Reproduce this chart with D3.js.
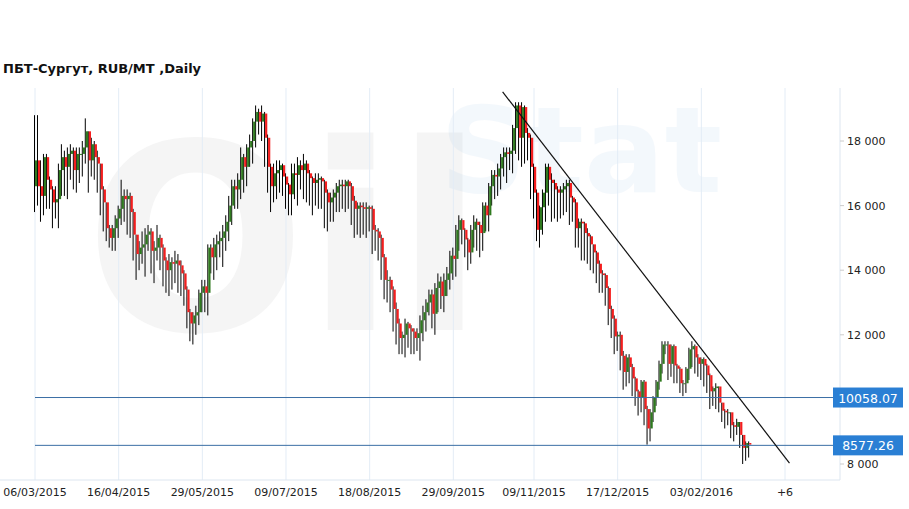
<!DOCTYPE html>
<html>
<head>
<meta charset="utf-8">
<script src="https://cdn.jsdelivr.net/npm/d3@7"></script>
<style>
  body { margin: 0; background: #fff; }
  text { font-family: Verdana, "DejaVu Sans", sans-serif; }
</style>
</head>
<body>
<div id="chart"></div>
<script>
var firstOpen = 16600;
var closes = [17400,16600,16300,17500,16800,16500,16100,16200,17100,17500,
  17200,17600,17700,17100,17600,17600,17800,18300,17400,17900,
  17500,17300,16500,16100,15300,15000,15300,15600,15900,16300,
  16200,16300,15800,15100,14500,14700,14800,15100,15200,14600,
  14700,15000,14700,14300,14000,14250,14200,14300,14150,13900,
  13400,12700,12350,12600,12700,13300,13500,13300,14700,14400,
  14800,14900,15000,15200,15500,16000,16600,16500,16800,17500,
  17200,17800,18000,18600,18900,18600,18850,18100,17200,16600,
  17000,17100,17250,16900,16650,16350,17000,16950,17250,17100,
  17300,17000,16850,16700,16800,16850,16750,16400,16100,16250,
  16400,16600,16650,16600,16750,16600,16150,15900,16000,15950,
  15900,15950,15900,15250,15200,15000,14400,13700,13700,13400,
  12800,12350,11900,12000,12350,12200,12100,11900,12050,12450,
  12700,13000,13250,12650,13450,13650,13200,13700,13900,14450,
  14350,15250,15550,15250,14950,14550,15250,15500,15400,15150,
  16000,15700,16600,16950,16900,17150,17500,17650,17600,17700,
  18400,19100,18100,19050,18250,18100,17200,16400,15250,15950,
  16400,17200,16800,16700,16500,16400,16500,16600,16700,16250,
  16100,15300,15500,15450,15150,15050,14800,14550,14200,13900,
  13850,13450,12800,12500,11950,12000,11350,10850,11300,11000,
  10650,10250,10050,10550,9700,9100,9600,10050,10550,11100,
  11700,11700,11100,11650,11050,10950,10500,10500,10950,11550,
  11650,11300,11100,11250,11050,10750,10250,10350,10400,9900,
  9650,9600,9600,9200,9150,9300,8900,8500,8650,8600];
var lows = [15800,16000,15500,15700,15900,15900,15300,15600,15300,16300,
  16300,16200,16800,16500,16400,16700,16900,17300,16400,16900,
  16800,16400,15700,15200,14900,14700,14600,14600,15000,15400,
  15500,15100,15000,14300,13700,14000,14200,13800,14600,13900,
  13600,14300,14000,13500,13300,13200,13400,13600,13300,13200,
  12900,12200,11800,11700,12000,12300,12700,12700,12600,13900,
  13700,14000,14400,14100,14600,14900,15400,15900,15900,16200,
  16400,16600,17200,17300,17800,18200,18000,17200,16400,15800,
  16100,16200,16400,16300,15900,15700,15700,16200,16000,16500,
  16200,16100,16000,15700,16000,15900,15900,15300,15200,15500,
  15500,15800,15800,15900,15800,15900,15400,15000,15100,15000,
  15100,15000,15200,14500,14600,14300,13700,13100,13000,12700,
  12100,11700,11400,11400,11300,11600,11400,11400,11500,11200,
  11800,12100,12600,12200,12000,12700,12800,12700,13200,13400,
  13700,13800,14600,14800,14400,14000,14200,14700,14600,14400,
  14600,15200,15200,16000,16200,16300,16500,16900,16700,17100,
  17000,17600,17400,17200,17300,17400,16200,15600,14900,14700,
  15100,15500,16000,15500,15600,15500,15600,15700,15800,15400,
  15500,14700,14700,14300,14300,14200,14000,13900,13600,13300,
  13300,12900,12300,11900,11400,11500,10900,10300,10400,10500,
  10100,9800,9500,9600,9200,8600,8700,9300,9800,10300,
  10800,11400,10600,10700,10500,10500,10200,10100,10200,10600,
  11000,10800,10700,10600,10400,10200,9700,9800,9700,9600,
  9300,9100,9200,8800,8700,8900,8500,8000,8100,8200];
var highs = [18800,18800,17400,17600,17600,16900,16600,16600,17300,17900,
  17700,17800,17900,17800,17800,17800,18000,18700,18300,18100,
  18000,17700,17300,16600,16100,15400,15400,15700,16000,16800,
  16500,16500,16400,15900,15100,14900,15200,15300,15400,15300,
  14900,15400,15100,14800,14400,14500,14400,14600,14500,14300,
  14000,13500,12800,12700,12900,13400,13700,13700,14800,14800,
  15000,15100,15200,15400,15700,16300,16800,16800,17000,17800,
  17600,17900,18200,18700,19100,19000,19100,18900,18200,17300,
  17300,17400,17400,17300,17000,16700,17300,17300,17500,17400,
  17600,17400,17100,16900,17000,17000,16900,16800,16500,16400,
  16500,16700,16800,16800,16800,16800,16700,16300,16100,16100,
  16100,16100,16000,16000,15400,15300,15100,14500,14000,13800,
  13500,13000,12500,12100,12500,12400,12300,12200,12200,12600,
  12900,13100,13400,13400,13600,13900,13800,13900,14100,14600,
  14700,15400,15700,15600,15300,15000,15400,15700,15600,15500,
  16100,16100,16700,17100,17100,17300,17600,17800,17800,17800,
  18500,19200,19200,19200,19100,18400,18200,17300,16500,16000,
  16500,17300,17300,17000,16800,16600,16600,16700,16800,16800,
  16300,16200,15600,15600,15500,15300,15100,14800,14600,14300,
  14000,13900,13500,12900,12600,12100,12100,11500,11400,11400,
  11100,10700,10300,10600,10600,9800,9700,10100,10600,11200,
  11800,11800,11800,11700,11700,11100,11000,10600,11000,11600,
  11800,11700,11400,11300,11300,11100,10800,10400,10500,10400,
  9900,9700,9700,9600,9300,9400,9300,8900,8700,8700];

var dateLabels = ["06/03/2015","16/04/2015","29/05/2015","09/07/2015","18/08/2015",
  "29/09/2015","09/11/2015","17/12/2015","03/02/2016","+6"];
var dateIdx = [0,28,56,84,112,140,167,195,223,251];
var yTicks = [8000,10000,12000,14000,16000,18000];
var levels = [10058.07, 8577.26];
var trend = [{i: 156.5, v: 19520}, {i: 252.5, v: 8030}];

var W = 909, H = 509;
var svg = d3.select("#chart").append("svg").attr("width", W).attr("height", H);

var x = d3.scaleLinear().domain([0, 251]).range([35, 785]);
var y = d3.scaleLinear().domain([8000, 18000]).range([464, 141]);
var plotTop = 88, plotBottom = 480, axisX = 840;

// watermark
svg.append("text").attr("x", 85).attr("y", 330).attr("font-size", 260)
  .attr("font-weight", "bold").attr("fill", "#000").attr("opacity", 0.035).text("Oil");
svg.append("text").attr("x", 440).attr("y", 192).attr("font-size", 120)
  .attr("font-weight", "bold").attr("fill", "#2a7fd0").attr("opacity", 0.05).text("Stat");

// vertical grid
svg.selectAll(".vgrid").data(dateIdx).enter().append("line")
  .attr("class", "vgrid")
  .attr("x1", function (d) { return x(d); }).attr("x2", function (d) { return x(d); })
  .attr("y1", plotTop).attr("y2", plotBottom)
  .attr("stroke", "#e3ecf6").attr("stroke-width", 1);

// axes lines
svg.append("line").attr("x1", 0).attr("x2", axisX).attr("y1", plotBottom).attr("y2", plotBottom)
  .attr("stroke", "#dde6f0");
svg.append("line").attr("x1", axisX).attr("x2", axisX).attr("y1", plotTop).attr("y2", plotBottom)
  .attr("stroke", "#dde6f0");

svg.selectAll(".xlab").data(dateIdx).enter().append("text")
  .attr("x", function (d) { return x(d); }).attr("y", 496)
  .attr("text-anchor", "middle").attr("font-size", 11).attr("fill", "#222")
  .text(function (d, k) { return dateLabels[k]; });

var fmt = function (v) { return d3.format(",")(v).replace(",", " "); };
svg.selectAll(".ylab").data(yTicks).enter().append("text")
  .attr("x", 847).attr("y", function (d) { return y(d) + 4; })
  .attr("font-size", 11).attr("fill", "#222").text(fmt);
svg.selectAll(".ytick").data(yTicks).enter().append("line")
  .attr("x1", axisX).attr("x2", axisX + 4)
  .attr("y1", function (d) { return y(d); }).attr("y2", function (d) { return y(d); })
  .attr("stroke", "#ccc");

// candles
var candles = closes.map(function (c, i) {
  return { i: i, o: i === 0 ? firstOpen : closes[i - 1], c: c, h: highs[i], l: lows[i] };
});
var g = svg.append("g");
g.selectAll(".wick").data(candles).enter().append("line")
  .attr("x1", function (d) { return x(d.i) - 0.5; }).attr("x2", function (d) { return x(d.i) - 0.5; })
  .attr("y1", function (d) { return y(d.h); }).attr("y2", function (d) { return y(d.l); })
  .attr("stroke", "#000").attr("stroke-width", 1);
g.selectAll(".body").data(candles).enter().append("rect")
  .attr("x", function (d) { return x(d.i); })
  .attr("width", 2.2)
  .attr("y", function (d) { return y(Math.max(d.o, d.c)); })
  .attr("height", function (d) { return Math.max(1, Math.abs(y(d.o) - y(d.c))); })
  .attr("fill", function (d) { return d.c >= d.o ? "#2f7a1f" : "#f41e1e"; });

// levels
svg.selectAll(".lvl").data(levels).enter().append("line")
  .attr("x1", 35).attr("x2", 833)
  .attr("y1", function (d) { return y(d); }).attr("y2", function (d) { return y(d); })
  .attr("stroke", "#3a6ea5").attr("stroke-width", 1);
var lab = svg.selectAll(".lvlLab").data(levels).enter().append("g")
  .attr("transform", function (d) { return "translate(833," + (y(d) - 10) + ")"; });
lab.append("rect").attr("width", 70).attr("height", 20).attr("fill", "#2a7fd4");
lab.append("text").attr("x", 35).attr("y", 15).attr("text-anchor", "middle")
  .attr("font-size", 12.5).attr("fill", "#fff").text(function (d) { return d.toFixed(2); });

// trend line
svg.append("line")
  .attr("x1", x(trend[0].i)).attr("y1", y(trend[0].v))
  .attr("x2", x(trend[1].i)).attr("y2", y(trend[1].v))
  .attr("stroke", "#111").attr("stroke-width", 1.2);

// title
svg.append("text").attr("x", 3).attr("y", 73).attr("font-size", 13)
  .attr("font-weight", "bold").attr("fill", "#111").text("ПБТ-Сургут,  RUB/MT ,Daily");
</script>
</body>
</html>
